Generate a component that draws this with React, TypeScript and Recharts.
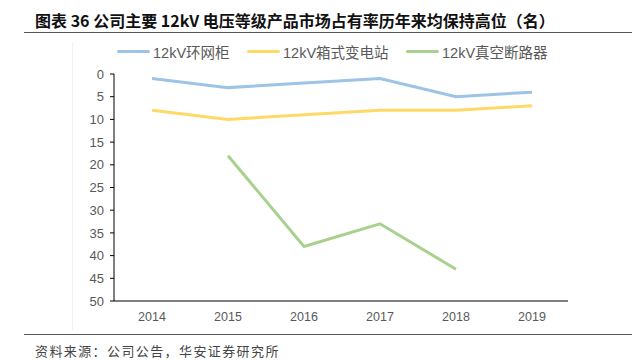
import React from "react";
import { LineChart, Line, XAxis, YAxis } from "recharts";

const years = ["2014", "2015", "2016", "2017", "2018", "2019"];
const ringMainUnit = [1, 3, 2, 1, 5, 4];
const boxSubstation = [8, 10, 9, 8, 8, 7];
const vacuumBreaker: (number | null)[] = [null, 18, 38, 33, 43, null];
const yTicks = [0, 5, 10, 15, 20, 25, 30, 35, 40, 45, 50];

const seriesInfo = [
  { key: "ring", name: "12kV环网柜", color: "#9DC3E6", x: 117 },
  { key: "box", name: "12kV箱式变电站", color: "#FFD966", x: 247 },
  { key: "vac", name: "12kV真空断路器", color: "#A9D18E", x: 406 },
];

const data = years.map((y, i) => ({
  year: y,
  ring: ringMainUnit[i],
  box: boxSubstation[i],
  vac: vacuumBreaker[i],
}));

const font = "'Noto Sans CJK SC', 'Noto Sans', sans-serif";
const latin = "'Liberation Sans', Arial, 'Noto Sans CJK SC', sans-serif";

export default function App() {
  return (
    <div
      style={{
        position: "absolute",
        left: 0,
        top: 0,
        width: 640,
        height: 360,
        background: "#fff",
        fontFamily: font,
        overflow: "hidden",
      }}
    >
      {/* title */}
      <div
        style={{
          position: "absolute",
          left: 35,
          top: 9,
          fontSize: 16,
          lineHeight: "22px",
          fontWeight: 700,
          color: "#111",
          whiteSpace: "nowrap",
        }}
      >
        图表 36 公司主要 12kV 电压等级产品市场占有率历年来均保持高位（名）
      </div>
      <div style={{ position: "absolute", left: 24, top: 32, width: 608, height: 1, background: "#555" }} />

      {/* faint chart frame edge */}
      <div style={{ position: "absolute", left: 72, top: 42, width: 1, height: 288, background: "#f2f2f2" }} />

      {/* legend */}
      {seriesInfo.map((s) => (
        <div
          key={s.key}
          style={{
            position: "absolute",
            left: s.x,
            top: 41,
            height: 20,
            display: "flex",
            alignItems: "center",
            fontSize: 14.5,
            fontFamily: latin,
            color: "#595959",
            whiteSpace: "nowrap",
          }}
        >
          <div style={{ width: 33, height: 3, borderRadius: 2, background: s.color, marginRight: 3 }} />
          <span>{s.name}</span>
        </div>
      ))}

      <div style={{ position: "absolute", left: 0, top: 0 }}>
        <LineChart width={640} height={360} data={data} margin={{ top: 74, right: 72, bottom: 29, left: 64 }}>
          <XAxis
            dataKey="year"
            tickLine={false}
            axisLine={{ stroke: "#000", strokeWidth: 1 }}
            tick={{ fill: "#595959", fontSize: 12.5, fontFamily: latin }}
            tickMargin={5}
            padding={{ left: 38, right: 36 }}
            height={30}
          />
          <YAxis
            reversed
            domain={[0, 50]}
            ticks={yTicks}
            interval={0}
            axisLine={{ stroke: "#000", strokeWidth: 1 }}
            tickLine={{ stroke: "#000" }}
            tickSize={4}
            tickMargin={6}
            tick={{ fill: "#595959", fontSize: 13, fontFamily: latin }}
            width={50}
          />
          <Line dataKey="ring" stroke="#9DC3E6" strokeWidth={3} dot={false} isAnimationActive={false} />
          <Line dataKey="box" stroke="#FFD966" strokeWidth={3} dot={false} isAnimationActive={false} />
          <Line dataKey="vac" stroke="#A9D18E" strokeWidth={3} dot={false} isAnimationActive={false} />
        </LineChart>
      </div>

      <div style={{ position: "absolute", left: 24, top: 334, width: 608, height: 1, background: "#555" }} />
      <div
        style={{
          position: "absolute",
          left: 35,
          top: 342,
          fontSize: 13,
          lineHeight: "18px",
          letterSpacing: 1.4,
          color: "#444",
          whiteSpace: "nowrap",
        }}
      >
        资料来源：公司公告，华安证券研究所
      </div>
    </div>
  );
}
